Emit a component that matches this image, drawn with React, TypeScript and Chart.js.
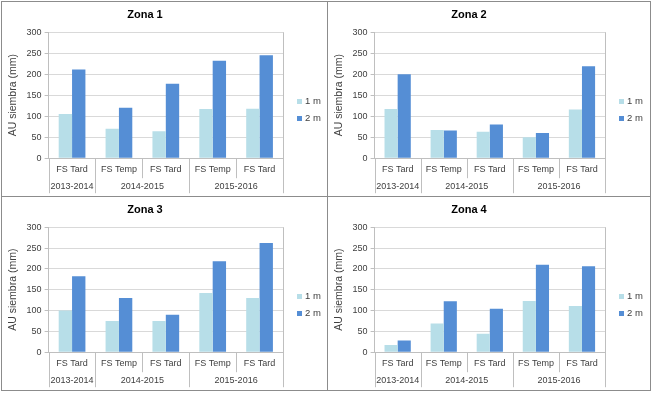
import React, { useEffect, useRef } from "react";
import { Chart, registerables } from "chart.js";

Chart.register(...registerables);

// ---- data ----
const categories = ["FS Tard", "FS Temp", "FS Tard", "FS Temp", "FS Tard"];
const yearGroups = ["2013-2014", "2014-2015", "2015-2016"];
const yearSpans = [1, 2, 2];
const seriesNames = ["1 m", "2 m"];
const yAxisTitle = "AU siembra (mm)";
const yMax = 300;
const yStep = 50;

const zona1_1m = [105, 70, 64, 117, 118];
const zona1_2m = [211, 120, 177, 232, 245];
const zona2_1m = [117, 67, 63, 50, 116];
const zona2_2m = [200, 66, 80, 60, 219];
const zona3_1m = [100, 75, 75, 142, 130];
const zona3_2m = [182, 130, 90, 218, 262];
const zona4_1m = [17, 69, 44, 123, 111];
const zona4_2m = [28, 122, 104, 210, 206];

const FONT = "'Liberation Sans', Arial, sans-serif";
const TEXT = "#404040";
const LINE = "#BFBFBF";
const GRID = "#D9D9D9";
const COLOR_1M = "#B7DEE8";
const COLOR_2M = "#558ED5";

const groupAxisPlugin = {
  id: "groupAxis",
  afterDraw(chart: any) {
    const x = chart.scales.x;
    const area = chart.chartArea;
    const ctx = chart.ctx;
    const n = categories.length;
    const half = n > 1 ? (x.getPixelForValue(1) - x.getPixelForValue(0)) / 2 : (area.right - area.left) / 2;
    const boundary = (i: number) =>
      i === 0 ? area.left : i === n ? area.right : x.getPixelForValue(i) - half;
    const edges = [0];
    let acc = 0;
    yearSpans.forEach((s) => {
      acc += s;
      edges.push(acc);
    });
    ctx.save();
    ctx.strokeStyle = LINE;
    ctx.lineWidth = 1;
    ctx.beginPath();
    for (let i = 0; i <= n; i++) {
      const px = Math.round(boundary(i)) + 0.5;
      const len = edges.includes(i) ? 35 : 20;
      ctx.moveTo(px, area.bottom);
      ctx.lineTo(px, area.bottom + len);
    }
    const rx = Math.round(area.right) + 0.5;
    ctx.moveTo(rx, area.top);
    ctx.lineTo(rx, area.bottom);
    ctx.stroke();
    ctx.fillStyle = TEXT;
    ctx.font = `9px ${FONT}`;
    ctx.textAlign = "center";
    ctx.textBaseline = "middle";
    for (let g = 0; g < yearGroups.length; g++) {
      const cx = (boundary(edges[g]) + boundary(edges[g + 1])) / 2;
      ctx.fillText(yearGroups[g], cx, area.bottom + 28);
    }
    // legend (series names and colours from the chart's datasets)
    const cy = (area.top + area.bottom) / 2 + 15;
    const ds = chart.data.datasets;
    ctx.textAlign = "left";
    ctx.font = `9.5px ${FONT}`;
    for (let i = 0; i < ds.length; i++) {
      const y = cy + (i - (ds.length - 1) / 2) * 17;
      const lx = area.right + 14;
      ctx.fillStyle = ds[i].backgroundColor;
      ctx.fillRect(lx, Math.round(y - 2.5), 5, 5);
      ctx.fillStyle = TEXT;
      ctx.fillText(ds[i].label, lx + 8, y);
    }
    ctx.restore();
  },
};

function ZonaChart({ title, d1, d2, width, height }: { title: string; d1: number[]; d2: number[]; width: number; height: number }) {
  const ref = useRef<HTMLCanvasElement | null>(null);
  useEffect(() => {
    if (!ref.current) return;
    const chart = new Chart(ref.current, {
      type: "bar",
      data: {
        labels: categories,
        datasets: [
          { label: seriesNames[0], data: d1, backgroundColor: COLOR_1M, categoryPercentage: 0.57, barPercentage: 1 },
          { label: seriesNames[1], data: d2, backgroundColor: COLOR_2M, categoryPercentage: 0.57, barPercentage: 1 },
        ],
      },
      options: {
        responsive: false,
        animation: false,
        devicePixelRatio: 1,
        layout: { padding: { left: 5, right: 45, bottom: 15, top: 0 } },
        plugins: {
          title: {
            display: true,
            text: title,
            color: "#000",
            font: { family: FONT, size: 11, weight: "bold" },
            padding: { top: 6, bottom: 11 },
          },
          legend: { display: false },
          tooltip: { enabled: false },
        },
        scales: {
          x: {
            grid: { display: false, drawTicks: false },
            border: { display: true, color: LINE },
            ticks: { color: TEXT, font: { family: FONT, size: 9 }, padding: 6, maxRotation: 0, autoSkip: false },
          },
          y: {
            min: 0,
            max: yMax,
            ticks: { stepSize: yStep, color: TEXT, font: { family: FONT, size: 9 }, padding: 3 },
            grid: { color: GRID, tickLength: 4, tickColor: LINE },
            border: { display: true, color: LINE },
            title: { display: true, text: yAxisTitle, color: TEXT, font: { family: FONT, size: 10.5 }, padding: { top: 0, bottom: 4 } },
          },
        },
      },
      plugins: [groupAxisPlugin],
    });
    return () => chart.destroy();
  }, [title, d1, d2]);
  return <canvas ref={ref} width={width} height={height} style={{ display: "block", width, height }} />;
}

const panelStyle = (left: number, top: number, w: number, h: number): React.CSSProperties => ({
  position: "absolute",
  left,
  top,
  width: w,
  height: h,
  border: "1px solid #8C8C8C",
  boxSizing: "border-box",
  background: "#fff",
  overflow: "hidden",
});

export default function App() {
  return (
    <div style={{ position: "absolute", left: 0, top: 0, width: 655, height: 394, background: "#fff" }}>
      <div style={panelStyle(1, 1, 328, 196)}>
        <ZonaChart title="Zona 1" d1={zona1_1m} d2={zona1_2m} width={326} height={194} />
      </div>
      <div style={panelStyle(327, 1, 324, 196)}>
        <ZonaChart title="Zona 2" d1={zona2_1m} d2={zona2_2m} width={322} height={194} />
      </div>
      <div style={panelStyle(1, 196, 328, 195)}>
        <ZonaChart title="Zona 3" d1={zona3_1m} d2={zona3_2m} width={326} height={193} />
      </div>
      <div style={panelStyle(327, 196, 324, 195)}>
        <ZonaChart title="Zona 4" d1={zona4_1m} d2={zona4_2m} width={322} height={193} />
      </div>
    </div>
  );
}
